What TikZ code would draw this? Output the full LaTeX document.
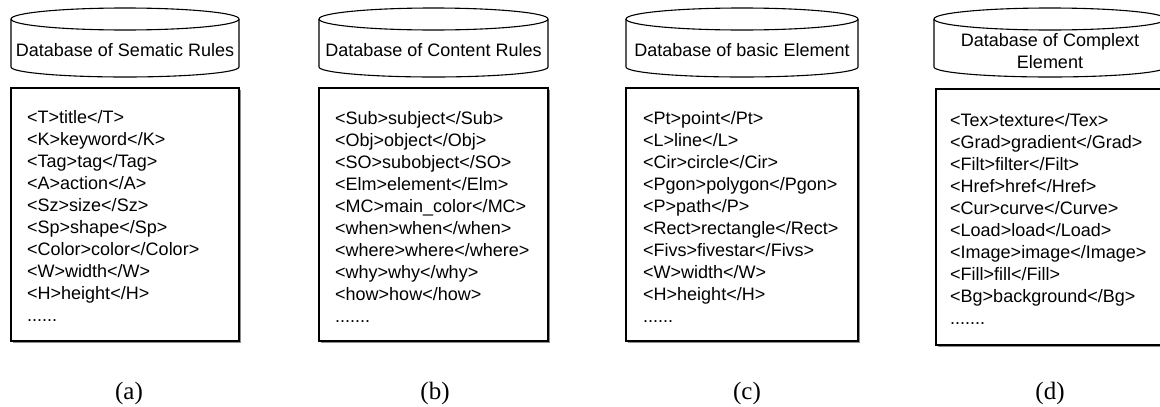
\documentclass[tikz,border=0pt]{standalone}
\usepackage{fontspec}
\setmainfont{Liberation Sans}
\newfontfamily\labelfont{Liberation Serif}
\begin{document}
\begin{tikzpicture}[x=1pt,y=-1pt,
  edge/.style={line width=1.1pt,draw=black},
  shadowline/.style={line width=1.2pt,draw=black!45},
  txt/.style={anchor=base west,inner sep=0pt,font=\fontsize{18}{21}\selectfont},
  ttl/.style={align=center,inner sep=0pt,font=\fontsize{18}{22}\selectfont},
  lbl/.style={anchor=base,inner sep=0pt,font=\labelfont\fontsize{25}{28}\selectfont}]
\useasboundingbox (0,0) rectangle (1160,407);
\clip (0,0) rectangle (1160,407);
\fill[white] (0,0) rectangle (1160,407);

% cylinders
\foreach \L/\R in {11/239, 319/548, 626/858, 934/1166}{
  \pgfmathsetmacro\cx{(\L+\R)/2}
  \pgfmathsetmacro\rx{(\R-\L)/2}
  \draw[edge] (\L,19) -- (\L,67) arc[start angle=180,end angle=0,x radius=\rx,y radius=10] -- (\R,19);
  \draw[edge] (\cx,19) ellipse[x radius=\rx,y radius=11];
}
\node[ttl] (ta) at (125,50) {Database of Sematic Rules};
\node[ttl] (tb) at (433.5,50) {Database of Content Rules};
\node[ttl] (tc) at (742,50) {Database of basic Element};
\node[ttl] (td) at (1050,51) {Database of Complext\\Element};

% boxes with a slight shadow
\foreach \L/\T/\R/\B in {11/88/239/341, 319/88/548/341, 626/88/858/341, 936/89/1166/345}{
  \draw[shadowline] (\L+2,\B+1.5) -- (\R+1.5,\B+1.5) -- (\R+1.5,\T+2);
  \draw[edge,fill=white] (\L,\T) rectangle (\R,\B);
}

% box texts
\foreach \t [count=\i] in {<T>title</T>, <K>keyword</K>, <Tag>tag</Tag>, <A>action</A>, <Sz>size</Sz>, <Sp>shape</Sp>, <Color>color</Color>, <W>width</W>, <H>height</H>}
  \node[txt] (a\i) at (27,{123+22*(\i-1)}) {\t};
\node[txt] (a10) at (27,321) {......};
\foreach \t [count=\i] in {<Sub>subject</Sub>, <Obj>object</Obj>, <SO>subobject</SO>, <Elm>element</Elm>, <MC>main\_color</MC>, <when>when</when>, <where>where</where>, <why>why</why>, <how>how</how>}
  \node[txt] (b\i) at (335,{124+22*(\i-1)}) {\t};
\node[txt] (b10) at (335,322) {.......};
\foreach \t [count=\i] in {<Pt>point</Pt>, <L>line</L>, <Cir>circle</Cir>, <Pgon>polygon</Pgon>, <P>path</P>, <Rect>rectangle</Rect>, <Fivs>fivestar</Fivs>, <W>width</W>, <H>height</H>}
  \node[txt] (c\i) at (643,{124+22*(\i-1)}) {\t};
\node[txt] (c10) at (643,322) {......};
\foreach \t [count=\i] in {<Tex>texture</Tex>, <Grad>gradient</Grad>, <Filt>filter</Filt>, <Href>href</Href>, <Cur>curve</Curve>, <Load>load</Load>, <Image>image</Image>, <Fill>fill</Fill>, <Bg>background</Bg>}
  \node[txt] (d\i) at (950,{126+22*(\i-1)}) {\t};
\node[txt] (d10) at (950,324) {.......};

% sub-figure labels
\node[lbl] (la) at (129,399) {(a)};
\node[lbl] (lb) at (435,399) {(b)};
\node[lbl] (lc) at (747,399) {(c)};
\node[lbl] (ld) at (1050,399) {(d)};
\end{tikzpicture}
\end{document}
